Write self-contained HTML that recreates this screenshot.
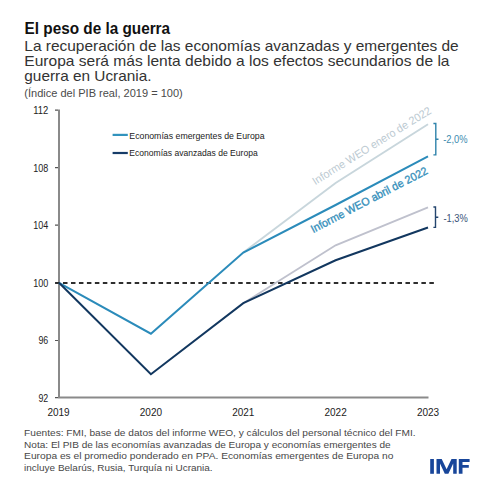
<!DOCTYPE html>
<html><head><meta charset="utf-8">
<style>
html,body{margin:0;padding:0;background:#fff;width:493px;height:493px;overflow:hidden}
svg{display:block;font-family:"Liberation Sans",sans-serif}
</style></head>
<body>
<svg width="493" height="493" viewBox="0 0 493 493">
<rect width="493" height="493" fill="#fff"/>
<!-- title -->
<text x="24.6" y="34.2" font-size="16" font-weight="bold" fill="#111" textLength="145.5" lengthAdjust="spacingAndGlyphs">El peso de la guerra</text>
<g font-size="14.6" fill="#333">
<text x="24.3" y="50.8" textLength="434.4" lengthAdjust="spacingAndGlyphs">La recuperación de las economías avanzadas y emergentes de</text>
<text x="24.3" y="65.8" textLength="425.2" lengthAdjust="spacingAndGlyphs">Europa será más lenta debido a los efectos secundarios de la</text>
<text x="24.3" y="80.8" textLength="127.2" lengthAdjust="spacingAndGlyphs">guerra en Ucrania.</text>
</g>
<text x="24.3" y="96.5" font-size="10.5" fill="#4a4a4a" textLength="158.4" lengthAdjust="spacingAndGlyphs">(Índice del PIB real, 2019 = 100)</text>

<!-- axes -->
<g stroke="#8a8a8a" stroke-width="2" fill="none">
<path d="M59 109.6 V397.6 H428.5"/>
</g>
<g stroke="#555" stroke-width="1.2" fill="none">
<path d="M55 110.2 H58 M55 167.6 H58 M55 225.1 H58 M55 340.5 H58 M55 397.6 H58"/>
</g>
<g font-size="10" fill="#222" text-anchor="end">
<text x="48.2" y="114.2" textLength="15" lengthAdjust="spacingAndGlyphs">112</text>
<text x="48.2" y="171.6" textLength="15" lengthAdjust="spacingAndGlyphs">108</text>
<text x="48.2" y="229.1" textLength="15" lengthAdjust="spacingAndGlyphs">104</text>
<text x="48.2" y="286.6" textLength="15" lengthAdjust="spacingAndGlyphs">100</text>
<text x="48.2" y="344.3" textLength="9.8" lengthAdjust="spacingAndGlyphs">96</text>
<text x="48.2" y="401.8" textLength="9.8" lengthAdjust="spacingAndGlyphs">92</text>
</g>
<g font-size="10" fill="#222" text-anchor="middle">
<text x="58.5" y="416">2019</text>
<text x="150.9" y="416">2020</text>
<text x="243.3" y="416">2021</text>
<text x="335.6" y="416">2022</text>
<text x="428" y="416">2023</text>
</g>

<!-- dashed 100 line -->
<path d="M55.05 283 H434" stroke="#2e2e2e" stroke-width="2" stroke-dasharray="4.5 3.464" fill="none"/>

<!-- jan lines -->
<polyline points="243.3,252.6 335.6,183 428,124.3" fill="none" stroke="#c8d6dc" stroke-width="1.9"/>
<polyline points="243.3,303.2 335.6,245.3 428,207.4" fill="none" stroke="#bfc1cd" stroke-width="1.9"/>
<!-- april lines -->
<polyline points="59,282.8 150.9,333.7 243.3,252.6 335.6,205 428,156.3" fill="none" stroke="#2b8bba" stroke-width="2"/>
<polyline points="59,282.8 150.9,374.2 243.3,303.2 335.6,260.3 428,227.5" fill="none" stroke="#12375f" stroke-width="2"/>

<!-- legend -->
<path d="M112.6 134.9 H127.8" stroke="#3193bd" stroke-width="2.2"/>
<path d="M112.6 153 H127.8" stroke="#163c68" stroke-width="2.2"/>
<g font-size="9" fill="#222">
<text x="129.3" y="138.9" textLength="135.3" lengthAdjust="spacingAndGlyphs">Economías emergentes de Europa</text>
<text x="129.3" y="155.5" textLength="128.4" lengthAdjust="spacingAndGlyphs">Economías avanzadas de Europa</text>
</g>

<!-- rotated annotations -->
<text transform="translate(315.3,185.2) rotate(-31.8)" font-size="11.2" fill="#bccad2" textLength="137.5" lengthAdjust="spacingAndGlyphs">Informe WEO enero de 2022</text>
<text transform="translate(313.2,233.2) rotate(-27.5)" font-size="11.2" fill="#3690bb" stroke="#3690bb" stroke-width="0.35" textLength="130" lengthAdjust="spacingAndGlyphs">Informe WEO abril de 2022</text>

<!-- brackets -->
<path d="M433.4 123.5 H435.8 V154.9 H433.4 M435.8 139.3 H438.5" stroke="#2f83ab" stroke-width="1.4" fill="none"/>
<path d="M433.4 207 H435.5 V227.4 H433.4 M435.5 217.3 H438.3" stroke="#24456e" stroke-width="1.4" fill="none"/>
<text x="443.2" y="143.2" font-size="10" fill="#3d8cb0" textLength="24.4" lengthAdjust="spacingAndGlyphs">-2,0%</text>
<text x="443.4" y="222" font-size="10" fill="#3a5478" textLength="24.4" lengthAdjust="spacingAndGlyphs">-1,3%</text>

<!-- footnotes -->
<g font-size="9.1" fill="#474747">
<text x="24.1" y="435.6" textLength="391.5" lengthAdjust="spacingAndGlyphs">Fuentes: FMI, base de datos del informe WEO, y cálculos del personal técnico del FMI.</text>
<text x="24.1" y="447.5" textLength="366.6" lengthAdjust="spacingAndGlyphs">Nota: El PIB de las economías avanzadas de Europa y economías emergentes de</text>
<text x="24.1" y="459.3" textLength="369.3" lengthAdjust="spacingAndGlyphs">Europa es el promedio ponderado en PPA. Economías emergentes de Europa no</text>
<text x="24.1" y="471.3" textLength="188.5" lengthAdjust="spacingAndGlyphs">incluye Belarús, Rusia, Turquía ni Ucrania.</text>
</g>

<!-- IMF logo -->
<g fill="#18469a">
<path d="M430.2 459H433.9V473.8H430.2Z"/>
<path d="M436.5 473.8V459H441.7L446.6 469.2L451.5 459H456.7V473.8H453.2V463.4L448.4 473.8H444.8L440 463.4V473.8Z"/>
<path d="M458.8 473.8V459H469.6V462.1H462.5V464.9H468.8V467.8H462.5V473.8Z"/>
</g>
</svg>
</body></html>
